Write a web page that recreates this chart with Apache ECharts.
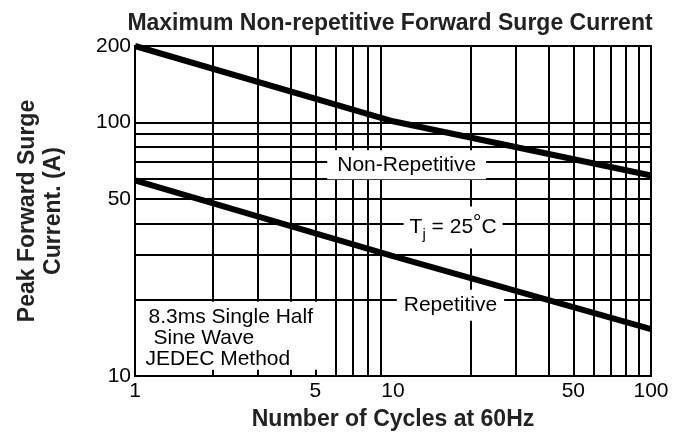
<!DOCTYPE html>
<html>
<head>
<meta charset="utf-8">
<script src="https://cdn.jsdelivr.net/npm/echarts@6/dist/echarts.min.js"></script>
<style>
html,body{margin:0;padding:0;background:#fff;}
#chart{width:680px;height:446px;}
</style>
</head>
<body>
<div id="chart"></div>
<script>
// ---- data ----
const cycles = [1, 10, 100];
const nonRepetitive = [200, 101, 61.7];
const repetitive = [59, 29.7, 15.3];
const xTickLabels = [1, 5, 10, 50, 100];
const yTickLabels = [10, 50, 100, 200];
const xGridValues = [2, 3, 4, 5, 6, 7, 8, 9, 20, 30, 40, 50, 60, 70, 80, 90];
const yGridValues = [20, 30, 40, 50, 60, 70, 80, 90, 100];
const titleText = 'Maximum Non-repetitive Forward Surge Current';
const xName = 'Number of Cycles at 60Hz';
const yName = 'Peak Forward Surge\nCurrent. (A)';

// annotation anchors (data coordinates)
const labelNonRep = [11.3, 68];
const labelTj = [17.1, 38.5];
const labelRep = [16.7, 19];
const labelMethod = [1.093, 14.4];

const FONT = '"Liberation Sans", Arial, Helvetica, sans-serif';

const chart = echarts.init(document.getElementById('chart'), null, {renderer: 'canvas'});

const gridLineData = xGridValues.map(v => ({xAxis: v}))
  .concat(yGridValues.map(v => ({yAxis: v})));

function pair(xs, ys) { return xs.map((x, i) => [x, ys[i]]); }

const boxLabel = {
  show: true,
  position: 'inside',
  color: '#000',
  opacity: 1,
  fontFamily: FONT,
  fontSize: 21,
  backgroundColor: '#fff'
};

const option = {
  animation: false,
  backgroundColor: '#fff',
  title: {
    text: titleText,
    left: 385,
    top: 7,
    textAlign: 'center',
    textStyle: {fontFamily: FONT, fontSize: 23, fontWeight: 'bold', color: '#222'}
  },
  grid: {
    left: 135, right: 29, top: 46, bottom: 70,
    show: true, borderColor: '#000', borderWidth: 2, backgroundColor: 'transparent'
  },
  xAxis: {
    type: 'log', logBase: 10, min: 1, max: 100,
    name: xName, nameLocation: 'middle', nameGap: 32,
    nameTextStyle: {fontFamily: FONT, fontSize: 23, fontWeight: 'bold', color: '#222'},
    axisLine: {show: true, lineStyle: {color: '#000', width: 2}},
    axisTick: {show: false},
    splitLine: {show: false},
    minorSplitLine: {show: false},
    axisLabel: {
      customValues: xTickLabels,
      fontFamily: FONT, fontSize: 21, color: '#000', margin: 5,
      formatter: v => String(Math.round(v))
    }
  },
  yAxis: {
    type: 'log', logBase: 10, min: 10, max: 200,
    name: yName, nameLocation: 'middle', nameGap: 68, nameRotate: 90,
    nameTextStyle: {fontFamily: FONT, fontSize: 23, fontWeight: 'bold', color: '#222', lineHeight: 26, align: 'center'},
    axisLine: {show: true, lineStyle: {color: '#000', width: 2}},
    axisTick: {show: false},
    splitLine: {show: false},
    axisLabel: {
      customValues: yTickLabels,
      fontFamily: FONT, fontSize: 21, color: '#000', margin: 4,
      formatter: v => String(Math.round(v))
    }
  },
  series: [
    {
      name: 'grid',
      type: 'line',
      data: [],
      z: 1,
      silent: true,
      markLine: {
        z: 1,
        silent: true,
        symbol: ['none', 'none'],
        label: {show: false},
        lineStyle: {color: '#000', width: 2, type: 'solid'},
        emphasis: {disabled: true},
        data: gridLineData
      }
    },
    {
      name: 'labels',
      type: 'scatter',
      z: 3,
      silent: true,
      symbol: 'circle',
      symbolSize: 1,
      itemStyle: {color: 'rgba(255,255,255,0)', opacity: 1},
      emphasis: {disabled: true},
      labelLayout: {hideOverlap: false},
      data: [
        {value: labelNonRep, label: Object.assign({}, boxLabel, {
          formatter: 'Non-Repetitive', padding: [4, 10, 4, 10]})},
        {value: labelTj, label: Object.assign({}, boxLabel, {
          formatter: '{t|T}{sub|j}{t| = 25}{sup|°}{t|C}',
          padding: [6, 6, 6, 6],
          rich: {
            t: {fontFamily: FONT, fontSize: 21, color: '#000', lineHeight: 30},
            sub: {fontFamily: FONT, fontSize: 15, color: '#000', lineHeight: 15, verticalAlign: 'bottom'},
            sup: {fontFamily: FONT, fontSize: 21, color: '#000', lineHeight: 21, verticalAlign: 'top'}
          }})},
        {value: labelRep, label: Object.assign({}, boxLabel, {
          formatter: 'Repetitive', padding: [5, 7, 5, 7]})},
        {value: labelMethod, label: Object.assign({}, boxLabel, {
          position: 'right', distance: 0,
          formatter: '{a|8.3ms Single Half}\n{b|Sine Wave}\n{c|JEDEC Method}',
          padding: [5, 12, 0, 0],
          rich: {
            a: {fontFamily: FONT, fontSize: 21, color: '#000', lineHeight: 21, padding: [0, 0, 0, 3]},
            b: {fontFamily: FONT, fontSize: 21, color: '#000', lineHeight: 21, padding: [0, 0, 0, 8]},
            c: {fontFamily: FONT, fontSize: 21, color: '#000', lineHeight: 21, padding: [0, 0, 0, 0]}
          }})}
      ]
    },
    {
      name: 'Non-Repetitive',
      type: 'line',
      z: 4,
      silent: true,
      data: pair(cycles, nonRepetitive),
      showSymbol: false,
      symbol: 'none',
      lineStyle: {color: '#000', width: 6, cap: 'butt'}
    },
    {
      name: 'Repetitive',
      type: 'line',
      z: 4,
      silent: true,
      data: pair(cycles, repetitive),
      showSymbol: false,
      symbol: 'none',
      lineStyle: {color: '#000', width: 6, cap: 'butt'}
    }
  ]
};
chart.setOption(option);
</script>
</body>
</html>
